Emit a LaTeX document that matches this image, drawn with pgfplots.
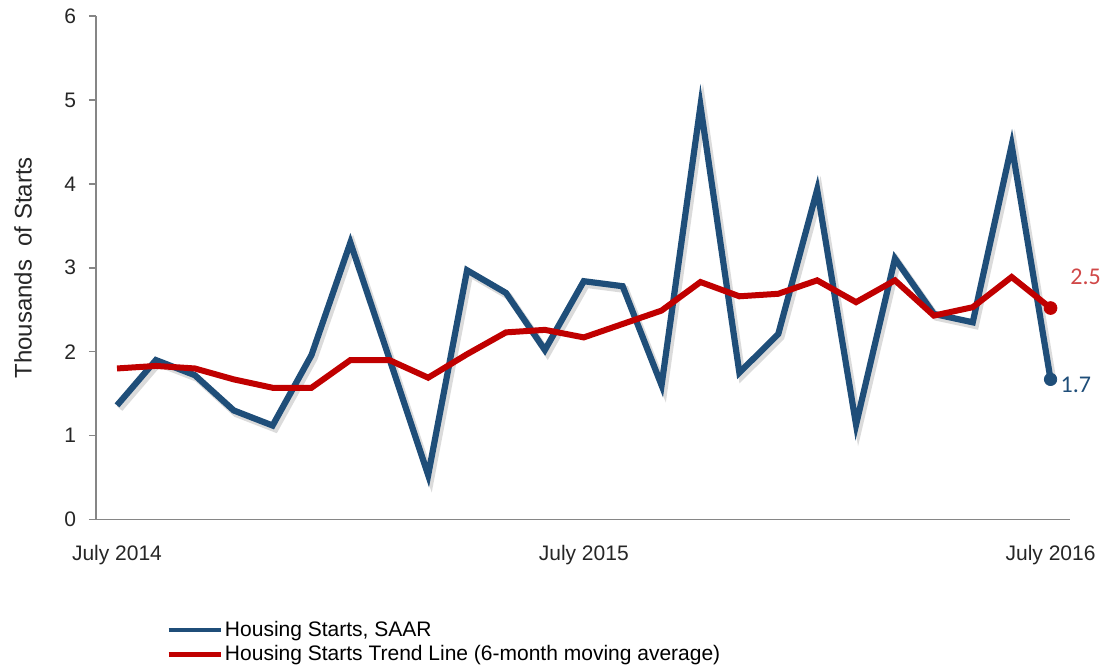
\documentclass[border=0pt]{standalone}
\usepackage{fontspec}
\setmainfont{Liberation Sans}
\newfontfamily\carlito{Carlito}
\usepackage{pgfplots}
\pgfplotsset{compat=1.18}
\definecolor{hsblue}{HTML}{1F4E79}
\definecolor{hsred}{HTML}{C00000}
\definecolor{lblred}{HTML}{D04848}
\definecolor{axgray}{HTML}{868686}

\pgfplotstableread{
x y
0 1.36
1 1.90
2 1.72
3 1.30
4 1.12
5 1.96
6 3.30
7 1.92
8 0.53
9 2.97
10 2.70
11 2.02
12 2.84
13 2.78
14 1.60
15 4.93
16 1.75
17 2.21
18 3.93
19 1.13
20 3.11
21 2.45
22 2.35
23 4.46
24 1.67
}\starts

\pgfplotstableread{
x y
0 1.80
1 1.83
2 1.80
3 1.67
4 1.57
5 1.57
6 1.90
7 1.90
8 1.69
9 1.97
10 2.23
11 2.26
12 2.17
13 2.33
14 2.49
15 2.83
16 2.66
17 2.69
18 2.85
19 2.59
20 2.85
21 2.43
22 2.53
23 2.89
24 2.52
}\trend

\pgfplotstableread{
x y
24 1.67
}\startslast

\pgfplotstableread{
x y
24 2.52
}\trendlast

\begin{document}
\begin{tikzpicture}
\path[use as bounding box] (-48pt,-75.75pt) rectangle (504.5pt,259.75pt);
\begin{axis}[
  at={(0,0)}, anchor=south west,
  scale only axis,
  width=487pt, height=251.75pt,
  xmin=-0.54, xmax=24.5,
  ymin=0, ymax=6,
  axis lines*=left,
  axis line style={axgray, line width=0.9pt},
  clip=false,
  ytick={0,1,2,3,4,5,6},
  xtick={0,12,24},
  xticklabels={July 2014, July 2015, July 2016},
  tick align=outside,
  major tick length=3.5pt,
  y tick style={axgray, line width=0.8pt},
  x tick style={draw=none},
  /pgf/number format/assume math mode=true,
  ticklabel style={font=\fontsize{10.5}{12}\selectfont, text=black!85},
  xticklabel style={yshift=-6pt},
  yticklabel style={xshift=-3pt},
  every axis y label/.style={at={(axis description cs:0,0.5)}, xshift=-36.5pt, rotate=90, anchor=center, font=\fontsize{12}{14}\selectfont, text=black!85},
  ylabel={Thousands\ \ of Starts},
  legend style={at={(0,0)}, anchor=north west, xshift=32pt, yshift=-47.5pt, draw=none, fill=none,
    font=\fontsize{10.5}{12}\selectfont, row sep=1pt, nodes={inner sep=1pt}},
  legend cell align=left,
  legend image code/.code={\draw[#1, line width=2.3pt] (0pt,0pt) -- (26pt,0pt);},
]
\addplot[forget plot, black, opacity=0.14, line width=3.6pt, xshift=1.3pt, yshift=-1.6pt] table[x=x,y=y] {\starts};
\addplot[hsblue, line width=3.1pt] table[x=x,y=y] {\starts};
\addlegendentry{Housing Starts, SAAR}
\addplot[hsred, line width=3pt] table[x=x,y=y] {\trend};
\addlegendentry{Housing Starts Trend Line (6-month moving average)}
\addplot[forget plot, only marks, mark=*, mark size=3.1pt, hsblue] table[x=x,y=y] {\startslast};
\addplot[forget plot, only marks, mark=*, mark size=3.2pt, hsred] table[x=x,y=y] {\trendlast};
\node[anchor=west, inner sep=0pt, text=lblred, font=\carlito\fontsize{12}{14}\selectfont] at (axis cs:24.5,2.89) {2.5};
\node[anchor=west, inner sep=0pt, text=hsblue, font=\carlito\fontsize{12}{14}\selectfont] at (axis cs:24.25,1.60) {1.7};
\end{axis}
\end{tikzpicture}
\end{document}
